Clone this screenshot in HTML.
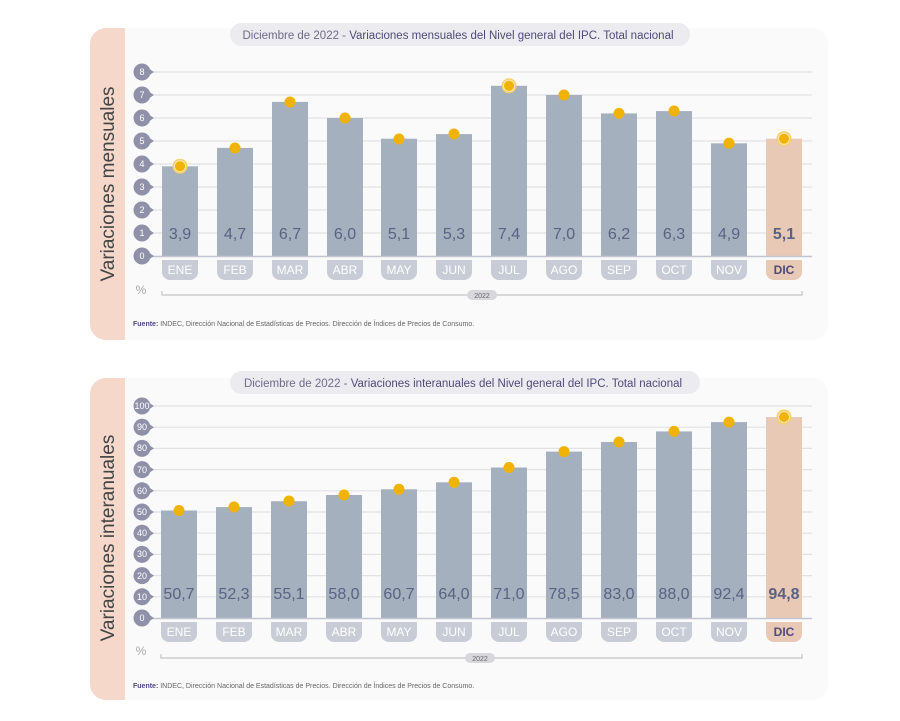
<!DOCTYPE html>
<html><head><meta charset="utf-8"><style>
body{margin:0;background:#fff;}
svg{display:block;font-family:"Liberation Sans",sans-serif;}
.v{font-size:16px;fill:#5a6282;text-anchor:middle;}
.m{font-size:12px;fill:#fff;text-anchor:middle;}
.t{font-size:9px;fill:#fff;text-anchor:middle;}
.g{stroke:#e2e2e6;stroke-width:1.2;}
</style></head><body>
<svg width="900" height="721" viewBox="0 0 900 721">
<defs>
<g id="tk"><circle cx="0" cy="0" r="8.5" fill="#8f91a9"/><path d="M6,-4 L12,0 L6,4Z" fill="#8f91a9"/></g>
<g id="ring"><circle r="7.5" fill="#f5cf6a"/><circle r="5.5" fill="#f0b400" stroke="#fbe7ae" stroke-width="1"/></g>
</defs>
<!-- PANEL 1 -->
<rect x="90" y="28" width="738" height="312" rx="16" fill="#fafafa"/>
<path d="M106,28 H125 V340 H106 A16,16 0 0 1 90,324 V44 A16,16 0 0 1 106,28Z" fill="#f5d8ca"/>
<text transform="translate(114,184) rotate(-90)" font-size="19" fill="#444" text-anchor="middle">Variaciones mensuales</text>
<rect x="230" y="23" width="460" height="23" rx="11.5" fill="#ececf0"/>
<text x="458" y="39" font-size="11.5" text-anchor="middle" fill="#6e6a8a">Diciembre de 2022 - <tspan fill="#4f4a78">Variaciones mensuales del Nivel general del IPC. Total nacional</tspan></text>
<g class="g">
<line x1="150" x2="812" y1="233" y2="233"/><line x1="150" x2="812" y1="210" y2="210"/><line x1="150" x2="812" y1="187" y2="187"/><line x1="150" x2="812" y1="164" y2="164"/><line x1="150" x2="812" y1="141" y2="141"/><line x1="150" x2="812" y1="118" y2="118"/><line x1="150" x2="812" y1="95" y2="95"/><line x1="150" x2="812" y1="72" y2="72"/>
</g>
<g fill="#a5b0bf">
<rect x="162" y="166.3" width="36" height="89.7"/><rect x="217" y="147.9" width="36" height="108.1"/><rect x="272" y="101.9" width="36" height="154.1"/><rect x="327" y="118" width="36" height="138"/><rect x="381" y="138.7" width="36" height="117.3"/><rect x="436" y="134.1" width="36" height="121.9"/><rect x="491" y="85.8" width="36" height="170.2"/><rect x="546" y="95" width="36" height="161"/><rect x="601" y="113.4" width="36" height="142.6"/><rect x="656" y="111.1" width="36" height="144.9"/><rect x="711" y="143.3" width="36" height="112.7"/>
<rect x="766" y="138.7" width="36" height="117.3" fill="#e8c9b5"/>
</g>
<line x1="150" x2="812" y1="256.5" y2="256.5" stroke="#c3c6d0" stroke-width="1.5"/>
<g>
<use href="#tk" x="142" y="256"/><use href="#tk" x="142" y="233"/><use href="#tk" x="142" y="210"/><use href="#tk" x="142" y="187"/><use href="#tk" x="142" y="164"/><use href="#tk" x="142" y="141"/><use href="#tk" x="142" y="118"/><use href="#tk" x="142" y="95"/><use href="#tk" x="142" y="72"/>
</g>
<g class="t"><text x="142" y="259">0</text><text x="142" y="236">1</text><text x="142" y="213">2</text><text x="142" y="190">3</text><text x="142" y="167">4</text><text x="142" y="144">5</text><text x="142" y="121">6</text><text x="142" y="98">7</text><text x="142" y="75">8</text></g>
<g fill="#f0b400">
<use href="#ring" x="180" y="166.3"/><circle cx="235" cy="148" r="5.5"/><circle cx="290" cy="102" r="5.5"/><circle cx="345" cy="118" r="5.5"/><circle cx="399" cy="139" r="5.5"/><circle cx="454" cy="134" r="5.5"/><use href="#ring" x="509" y="85.8"/><circle cx="564" cy="95" r="5.5"/><circle cx="619" cy="113.4" r="5.5"/><circle cx="674" cy="111" r="5.5"/><circle cx="729" cy="143.3" r="5.5"/><use href="#ring" x="784" y="138.7"/>
</g>
<g class="v"><text x="180" y="239">3,9</text><text x="235" y="239">4,7</text><text x="290" y="239">6,7</text><text x="345" y="239">6,0</text><text x="399" y="239">5,1</text><text x="454" y="239">5,3</text><text x="509" y="239">7,4</text><text x="564" y="239">7,0</text><text x="619" y="239">6,2</text><text x="674" y="239">6,3</text><text x="729" y="239">4,9</text><text x="784" y="239" font-weight="bold">5,1</text></g>
<g fill="#c7ccd6">
<path d="M162,260h36v12a8,8 0 0 1 -8,8h-20a8,8 0 0 1 -8,-8z"/><path d="M217,260h36v12a8,8 0 0 1 -8,8h-20a8,8 0 0 1 -8,-8z"/><path d="M272,260h36v12a8,8 0 0 1 -8,8h-20a8,8 0 0 1 -8,-8z"/><path d="M327,260h36v12a8,8 0 0 1 -8,8h-20a8,8 0 0 1 -8,-8z"/><path d="M381,260h36v12a8,8 0 0 1 -8,8h-20a8,8 0 0 1 -8,-8z"/><path d="M436,260h36v12a8,8 0 0 1 -8,8h-20a8,8 0 0 1 -8,-8z"/><path d="M491,260h36v12a8,8 0 0 1 -8,8h-20a8,8 0 0 1 -8,-8z"/><path d="M546,260h36v12a8,8 0 0 1 -8,8h-20a8,8 0 0 1 -8,-8z"/><path d="M601,260h36v12a8,8 0 0 1 -8,8h-20a8,8 0 0 1 -8,-8z"/><path d="M656,260h36v12a8,8 0 0 1 -8,8h-20a8,8 0 0 1 -8,-8z"/><path d="M711,260h36v12a8,8 0 0 1 -8,8h-20a8,8 0 0 1 -8,-8z"/><path fill="#e8c9b5" d="M766,260h36v12a8,8 0 0 1 -8,8h-20a8,8 0 0 1 -8,-8z"/>
</g>
<g class="m"><text x="180" y="274">ENE</text><text x="235" y="274">FEB</text><text x="290" y="274">MAR</text><text x="345" y="274">ABR</text><text x="399" y="274">MAY</text><text x="454" y="274">JUN</text><text x="509" y="274">JUL</text><text x="564" y="274">AGO</text><text x="619" y="274">SEP</text><text x="674" y="274">OCT</text><text x="729" y="274">NOV</text><text x="784" y="274" fill="#4f4a78" font-weight="bold">DIC</text></g>
<text x="141" y="294" font-size="12" fill="#aaa" text-anchor="middle">%</text>
<path d="M162,291v4h640v-4" fill="none" stroke="#c3c3c8" stroke-width="1.2"/>
<rect x="467" y="290" width="30" height="10" rx="5" fill="#d8d8dc"/>
<text x="482" y="298" font-size="7" fill="#666" text-anchor="middle">2022</text>
<text x="133" y="326" font-size="7" fill="#666"><tspan font-weight="bold" fill="#4f4a78">Fuente:</tspan> INDEC, Dirección Nacional de Estadísticas de Precios. Dirección de Índices de Precios de Consumo.</text>

<!-- PANEL 2 -->
<rect x="90" y="378" width="738" height="322" rx="16" fill="#fafafa"/>
<path d="M106,378 H125 V700 H106 A16,16 0 0 1 90,684 V394 A16,16 0 0 1 106,378Z" fill="#f5d8ca"/>
<text transform="translate(114,538) rotate(-90)" font-size="19" fill="#444" text-anchor="middle">Variaciones interanuales</text>
<rect x="230" y="371" width="470" height="23" rx="11.5" fill="#ececf0"/>
<text x="463" y="387" font-size="11.5" text-anchor="middle" fill="#6e6a8a">Diciembre de 2022 - <tspan fill="#4f4a78">Variaciones interanuales del Nivel general del IPC. Total nacional</tspan></text>
<g class="g">
<line x1="150" x2="812" y1="596.8" y2="596.8"/><line x1="150" x2="812" y1="575.6" y2="575.6"/><line x1="150" x2="812" y1="554.4" y2="554.4"/><line x1="150" x2="812" y1="533.2" y2="533.2"/><line x1="150" x2="812" y1="512" y2="512"/><line x1="150" x2="812" y1="490.8" y2="490.8"/><line x1="150" x2="812" y1="469.6" y2="469.6"/><line x1="150" x2="812" y1="448.4" y2="448.4"/><line x1="150" x2="812" y1="427.2" y2="427.2"/><line x1="150" x2="812" y1="406" y2="406"/>
</g>
<g fill="#a5b0bf">
<rect x="161" y="510.5" width="36" height="107.5"/><rect x="216" y="507.1" width="36" height="110.9"/><rect x="271" y="501.2" width="36" height="116.8"/><rect x="326" y="495" width="36" height="123"/><rect x="381" y="489.3" width="36" height="128.7"/><rect x="436" y="482.3" width="36" height="135.7"/><rect x="491" y="467.5" width="36" height="150.5"/><rect x="546" y="451.6" width="36" height="166.4"/><rect x="601" y="442" width="36" height="176"/><rect x="656" y="431.4" width="36" height="186.6"/><rect x="711" y="422.1" width="36" height="195.9"/>
<rect x="766" y="417" width="36" height="201" fill="#e8c9b5"/>
</g>
<line x1="150" x2="812" y1="618.5" y2="618.5" stroke="#c3c6d0" stroke-width="1.5"/>
<g>
<use href="#tk" x="142" y="618"/><use href="#tk" x="142" y="596.8"/><use href="#tk" x="142" y="575.6"/><use href="#tk" x="142" y="554.4"/><use href="#tk" x="142" y="533.2"/><use href="#tk" x="142" y="512"/><use href="#tk" x="142" y="490.8"/><use href="#tk" x="142" y="469.6"/><use href="#tk" x="142" y="448.4"/><use href="#tk" x="142" y="427.2"/><use href="#tk" x="142" y="406"/>
</g>
<g class="t"><text x="142" y="621">0</text><text x="142" y="600">10</text><text x="142" y="579">20</text><text x="142" y="557">30</text><text x="142" y="536">40</text><text x="142" y="515">50</text><text x="142" y="494">60</text><text x="142" y="473">70</text><text x="142" y="451">80</text><text x="142" y="430">90</text><text x="142" y="409">100</text></g>
<g fill="#f0b400">
<circle cx="179" cy="510.5" r="5.5"/><circle cx="234" cy="507" r="5.5"/><circle cx="289" cy="501" r="5.5"/><circle cx="344" cy="495" r="5.5"/><circle cx="399" cy="489.3" r="5.5"/><circle cx="454" cy="482.3" r="5.5"/><circle cx="509" cy="467.5" r="5.5"/><circle cx="564" cy="451.6" r="5.5"/><circle cx="619" cy="442" r="5.5"/><circle cx="674" cy="431.4" r="5.5"/><circle cx="729" cy="422.1" r="5.5"/><use href="#ring" x="784" y="417"/>
</g>
<g class="v"><text x="179" y="599">50,7</text><text x="234" y="599">52,3</text><text x="289" y="599">55,1</text><text x="344" y="599">58,0</text><text x="399" y="599">60,7</text><text x="454" y="599">64,0</text><text x="509" y="599">71,0</text><text x="564" y="599">78,5</text><text x="619" y="599">83,0</text><text x="674" y="599">88,0</text><text x="729" y="599">92,4</text><text x="784" y="599" font-weight="bold">94,8</text></g>
<g fill="#c7ccd6">
<path d="M161,622h36v12a8,8 0 0 1 -8,8h-20a8,8 0 0 1 -8,-8z"/><path d="M216,622h36v12a8,8 0 0 1 -8,8h-20a8,8 0 0 1 -8,-8z"/><path d="M271,622h36v12a8,8 0 0 1 -8,8h-20a8,8 0 0 1 -8,-8z"/><path d="M326,622h36v12a8,8 0 0 1 -8,8h-20a8,8 0 0 1 -8,-8z"/><path d="M381,622h36v12a8,8 0 0 1 -8,8h-20a8,8 0 0 1 -8,-8z"/><path d="M436,622h36v12a8,8 0 0 1 -8,8h-20a8,8 0 0 1 -8,-8z"/><path d="M491,622h36v12a8,8 0 0 1 -8,8h-20a8,8 0 0 1 -8,-8z"/><path d="M546,622h36v12a8,8 0 0 1 -8,8h-20a8,8 0 0 1 -8,-8z"/><path d="M601,622h36v12a8,8 0 0 1 -8,8h-20a8,8 0 0 1 -8,-8z"/><path d="M656,622h36v12a8,8 0 0 1 -8,8h-20a8,8 0 0 1 -8,-8z"/><path d="M711,622h36v12a8,8 0 0 1 -8,8h-20a8,8 0 0 1 -8,-8z"/><path fill="#e8c9b5" d="M766,622h36v12a8,8 0 0 1 -8,8h-20a8,8 0 0 1 -8,-8z"/>
</g>
<g class="m"><text x="179" y="636">ENE</text><text x="234" y="636">FEB</text><text x="289" y="636">MAR</text><text x="344" y="636">ABR</text><text x="399" y="636">MAY</text><text x="454" y="636">JUN</text><text x="509" y="636">JUL</text><text x="564" y="636">AGO</text><text x="619" y="636">SEP</text><text x="674" y="636">OCT</text><text x="729" y="636">NOV</text><text x="784" y="636" fill="#4f4a78" font-weight="bold">DIC</text></g>
<text x="141" y="655" font-size="12" fill="#aaa" text-anchor="middle">%</text>
<path d="M161,654v4h641v-4" fill="none" stroke="#c3c3c8" stroke-width="1.2"/>
<rect x="465" y="653" width="30" height="10" rx="5" fill="#d8d8dc"/>
<text x="480" y="661" font-size="7" fill="#666" text-anchor="middle">2022</text>
<text x="133" y="688" font-size="7" fill="#666"><tspan font-weight="bold" fill="#4f4a78">Fuente:</tspan> INDEC, Dirección Nacional de Estadísticas de Precios. Dirección de Índices de Precios de Consumo.</text>
</svg>
</body></html>
